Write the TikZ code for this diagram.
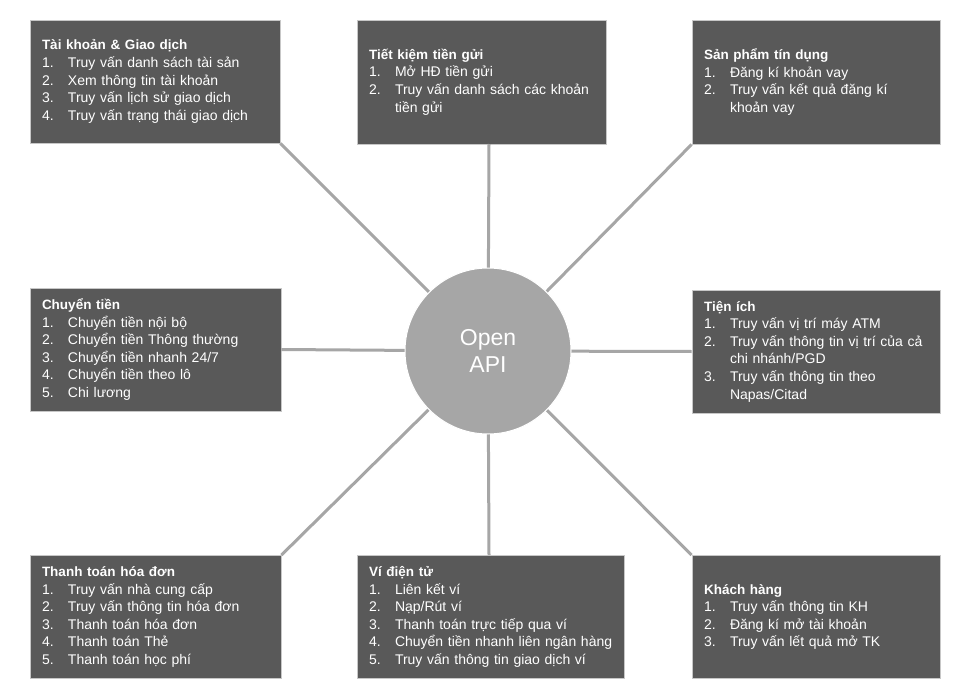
\documentclass[tikz,border=0pt]{standalone}
\usepackage{fontspec}
\setmainfont{Liberation Sans}
\begin{document}
\begin{tikzpicture}[x=1pt,y=-1pt,
  box/.style={draw=black!22, line width=0.8pt, fill=black!65, text=white, align=left,
    inner xsep=0pt, inner ysep=0pt, font=\fontsize{14}{17.6}\selectfont},
  link/.style={draw=black!35, line width=3pt},
  hub/.style={circle, draw=white, line width=1pt, fill=black!35, text=white,
    minimum size=166pt, inner sep=0pt, align=center, font=\fontsize{23}{27}\selectfont}]
\newcommand{\itm}[2]{\mbox{\makebox[26pt][l]{#1.}#2}}
\newcommand{\cont}{\hspace*{26pt}}
\newcommand{\ttl}[1]{\mbox{\fontsize{13.5}{17.6}\selectfont\bfseries #1}}
\useasboundingbox (0,0) rectangle (956,690);
\fill[white] (0,0) rectangle (956,690);
\coordinate (c) at (488,351);
% boxes (as rectangles with text)
\node[box, minimum width=250pt, minimum height=123pt, text width=226pt] (b1) at (155,81.5)
  {\ttl{Tài khoản \& Giao dịch}\\\itm{1}{Truy vấn danh sách tài sản}\\\itm{2}{Xem thông tin tài khoản}\\\itm{3}{Truy vấn lịch sử giao dịch}\\\itm{4}{Truy vấn trạng thái giao dịch}};
\node[box, minimum width=249pt, minimum height=124pt, text width=225pt] (b2) at (481.5,82)
  {\ttl{Tiết kiệm tiền gửi}\\\itm{1}{Mở HĐ tiền gửi}\\\itm{2}{Truy vấn danh sách các khoản}\\\cont tiền gửi};
\node[box, minimum width=248pt, minimum height=124pt, text width=224pt] (b3) at (816,82)
  {\ttl{Sản phẩm tín dụng}\\\itm{1}{Đăng kí khoản vay}\\\itm{2}{Truy vấn kết quả đăng kí}\\\cont khoản vay};
\node[box, minimum width=251pt, minimum height=123pt, text width=227pt] (b4) at (155.5,349.5)
  {\ttl{Chuyển tiền}\\\itm{1}{Chuyển tiền nội bộ}\\\itm{2}{Chuyển tiền Thông thường}\\\itm{3}{Chuyển tiền nhanh 24/7}\\\itm{4}{Chuyển tiền theo lô}\\\itm{5}{Chi lương}};
\node[box, minimum width=248pt, minimum height=123pt, text width=224pt] (b5) at (816,351.5)
  {\ttl{Tiện ích}\\\itm{1}{Truy vấn vị trí máy ATM}\\\itm{2}{Truy vấn thông tin vị trí của cả}\\\cont chi nhánh/PGD\\\itm{3}{Truy vấn thông tin theo}\\\cont Napas/Citad};
\node[box, minimum width=251pt, minimum height=123pt, text width=227pt] (b6) at (155.5,617)
  {\ttl{Thanh toán hóa đơn}\\\itm{1}{Truy vấn nhà cung cấp}\\\itm{2}{Truy vấn thông tin hóa đơn}\\\itm{3}{Thanh toán hóa đơn}\\\itm{4}{Thanh toán Thẻ}\\\itm{5}{Thanh toán học phí}};
\node[box, minimum width=267pt, minimum height=123pt, text width=243pt] (b7) at (490.5,617)
  {\ttl{Ví điện tử}\\\itm{1}{Liên kết ví}\\\itm{2}{Nạp/Rút ví}\\\itm{3}{Thanh toán trực tiếp qua ví}\\\itm{4}{Chuyển tiền nhanh liên ngân hàng}\\\itm{5}{Truy vấn thông tin giao dịch ví}};
\node[box, minimum width=248pt, minimum height=123pt, text width=224pt] (b8) at (816,617)
  {\ttl{Khách hàng}\\\itm{1}{Truy vấn thông tin KH}\\\itm{2}{Đăng kí mở tài khoản}\\\itm{3}{Truy vấn lết quả mở TK}};
% connectors
\coordinate (t2) at (489,144);
\coordinate (t7) at (489,555);
\draw[link] (b1.south east) -- (c);
\draw[link] (t2) -- (c);
\draw[link] (b3.south west) -- (c);
\draw[link] (b4.east) -- (c);
\draw[link] (b5.west) -- (c);
\draw[link] (b6.north east) -- (c);
\draw[link] (t7) -- (c);
\draw[link] (b8.north west) -- (c);
\node[hub] (hub) at (c) {Open\\API};
\end{tikzpicture}
\end{document}
